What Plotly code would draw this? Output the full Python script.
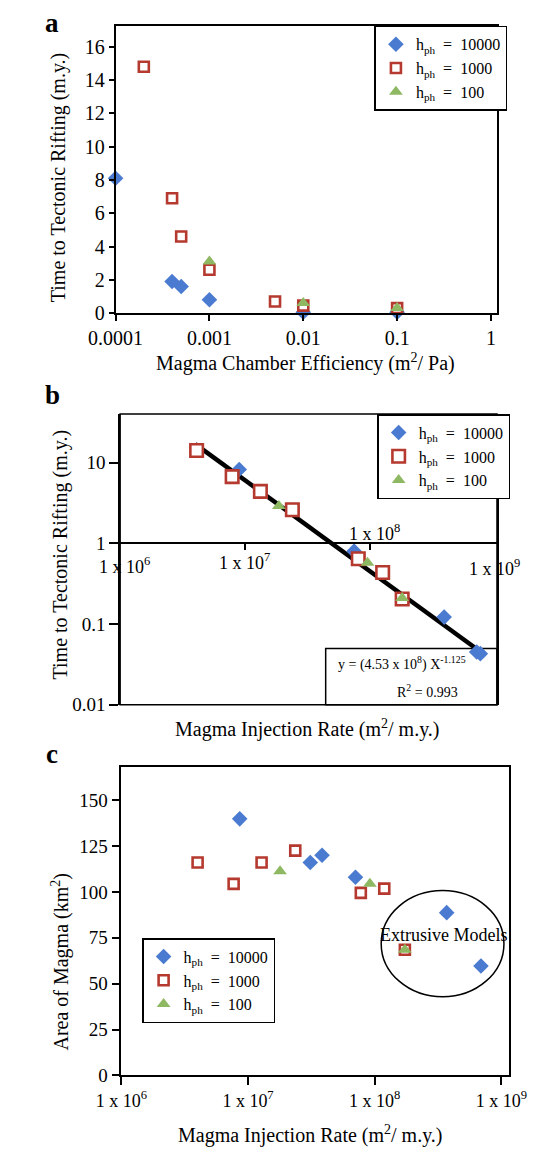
import numpy as np
import plotly.graph_objects as go

W, H = 539, 1159
FONT = "Liberation Serif, Times New Roman, serif"
TXT = "#000"
BLUE = "#4a7bd0"
RED = "#b5392e"
GREEN = "#8fb863"

# ---------------- data ----------------
series_names = ["h<sub>ph</sub>  =  10000", "h<sub>ph</sub>  =  1000", "h<sub>ph</sub>  =  100"]

# panel a: magma chamber efficiency vs time to rifting
eff_blue = [0.0001, 0.0004, 0.0005, 0.001, 0.01, 0.1]
time_blue_a = [8.1, 1.9, 1.6, 0.8, 0.05, 0.05]
eff_red = [0.0002, 0.0004, 0.0005, 0.001, 0.005, 0.01, 0.1]
time_red_a = [14.8, 6.9, 4.6, 2.6, 0.7, 0.45, 0.3]
eff_green = [0.001, 0.01, 0.1]
time_green_a = [3.1, 0.6, 0.3]
a_xticks = [0.0001, 0.001, 0.01, 0.1, 1]
a_xticktext = ["0.0001", "0.001", "0.01", "0.1", "1"]

# panel b: injection rate vs time to rifting (log-log)
rate_blue_b = [9.0e6, 7.5e7, 3.95e8, 7.2e8, 7.7e8]
time_blue_b = [8.2, 0.80, 0.122, 0.045, 0.043]
rate_red_b = [4.1e6, 7.9e6, 1.33e7, 2.4e7, 8.1e7, 1.27e8, 1.82e8]
time_red_b = [14.1, 6.7, 4.4, 2.6, 0.645, 0.435, 0.204]
rate_green_b = [1.87e7, 9.6e7, 1.82e8]
time_green_b = [2.9, 0.575, 0.21]
fit_coef = 4.53e8
fit_exp = -1.125
fit_x_ends = [4.0e6, 7.3e8]
b_yticks = [0.01, 0.1, 1, 10]
b_yticktext = ["0.01", "0.1", "1", "10"]
rate_ticks = [1e6, 1e7, 1e8, 1e9]
rate_ticktext = ["1 x 10<sup>6</sup>", "1 x 10<sup>7</sup>", "1 x 10<sup>8</sup>", "1 x 10<sup>9</sup>"]

# panel c: injection rate vs area of magma
rate_blue_c = [8.6e6, 3.1e7, 3.84e7, 7.05e7, 3.7e8, 6.9e8]
area_blue_c = [139.8, 116, 120, 108, 88.7, 59.6]
rate_red_c = [4.0e6, 7.7e6, 1.28e7, 2.36e7, 7.77e7, 1.19e8, 1.73e8]
area_red_c = [116, 104.4, 116, 122.5, 99.5, 101.8, 68.5]
rate_green_c = [1.79e7, 9.16e7, 1.73e8]
area_green_c = [111.2, 104.4, 68.5]


def px(x):
    return x / W


def py(y):
    return 1 - y / H


fig = go.Figure()


def add_series(xs, ys, xa, ya, legend, kind, showlegend=True, size_scale=1.0):
    if kind == 0:
        marker = dict(symbol="diamond", color=BLUE, size=12 * size_scale, line=dict(width=0))
    elif kind == 1:
        marker = dict(symbol="square", color="white", size=10 * size_scale,
                      line=dict(color=RED, width=2.6))
    else:
        marker = dict(symbol="triangle-up", color=GREEN, size=12 * size_scale, line=dict(width=0))
    fig.add_trace(go.Scatter(x=xs, y=ys, mode="markers", marker=marker, name=series_names[kind],
                             xaxis=xa, yaxis=ya, legend=legend, showlegend=showlegend,
                             cliponaxis=False))


# panel a
add_series(eff_blue, time_blue_a, "x", "y", "legend", 0)
add_series(eff_red, time_red_a, "x", "y", "legend", 1)
add_series(eff_green, time_green_a, "x", "y", "legend", 2)

# panel b
fx = np.array(fit_x_ends)
fig.add_trace(go.Scatter(x=fx, y=fit_coef * fx ** fit_exp, mode="lines",
                         line=dict(color="black", width=4.5), xaxis="x2", yaxis="y2",
                         showlegend=False, cliponaxis=False))
add_series(rate_blue_b, time_blue_b, "x2", "y2", "legend2", 0)
add_series(rate_red_b, time_red_b, "x2", "y2", "legend2", 1, size_scale=1.25)
add_series(rate_green_b, time_green_b, "x2", "y2", "legend2", 2)

# panel c
add_series(rate_blue_c, area_blue_c, "x3", "y3", "legend3", 0)
add_series(rate_red_c, area_red_c, "x3", "y3", "legend3", 1)
add_series(rate_green_c, area_green_c, "x3", "y3", "legend3", 2)

axis_common = dict(showline=True, linecolor="black", linewidth=1.5, showgrid=False,
                   zeroline=False, ticks="outside", tickcolor="black", tickwidth=1.5)

dom_a_x = [px(87), px(504)]
dom_a_y = [py(308), py(18)]
dom_b_x = [px(92), px(504)]
dom_b_y = [py(703.5), py(410)]
dom_c_x = [px(93.3), px(516.7)]
dom_c_y = [py(1077.7), py(766)]

b_yrange = [-2, 1.6]
b_axis_pos = dom_b_y[0] + (0 - b_yrange[0]) / (b_yrange[1] - b_yrange[0]) * (dom_b_y[1] - dom_b_y[0])

fig.update_layout(
    width=W, height=H,
    margin=dict(l=0, r=0, t=0, b=0),
    paper_bgcolor="white", plot_bgcolor="white",
    font=dict(family=FONT, color=TXT, size=19),
    xaxis=dict(type="log", range=[-4, 0.064], domain=dom_a_x, anchor="y",
               tickvals=a_xticks, ticktext=a_xticktext, ticklen=6, mirror=True,
               tickfont=dict(size=20), **axis_common),
    yaxis=dict(range=[0, 17.26], domain=dom_a_y, anchor="x", dtick=2, ticklen=5, mirror=True,
               tickfont=dict(size=20), **axis_common),
    xaxis2=dict(type="log", range=[6, 9.02], domain=dom_b_x, anchor="free", position=b_axis_pos,
                tickvals=rate_ticks[1:3], showticklabels=False, ticklen=6, **axis_common),
    yaxis2=dict(type="log", range=b_yrange, domain=dom_b_y, anchor="x2", tickvals=b_yticks,
                ticktext=b_yticktext, ticklen=9, mirror=True, tickfont=dict(size=19), **axis_common),
    xaxis3=dict(type="log", range=[6, 9.057], domain=dom_c_x, anchor="y3", tickvals=rate_ticks,
                ticktext=rate_ticktext, ticklen=8, mirror=True, tickfont=dict(size=18), **axis_common),
    yaxis3=dict(range=[0, 168.2], domain=dom_c_y, anchor="x3", dtick=25, ticklen=8, mirror=True,
                tickfont=dict(size=19), **axis_common),
)

leg_common = dict(bgcolor="white", bordercolor="black", borderwidth=1.5, xanchor="left",
                  yanchor="top", font=dict(family=FONT, size=16, color=TXT),
                  itemwidth=30, tracegroupgap=0)
fig.update_layout(
    legend=dict(x=px(370), y=py(18), **leg_common),
    legend2=dict(x=px(373), y=py(410), **leg_common),
    legend3=dict(x=px(116), y=py(939), **leg_common),
)

shapes = [
    # box around panel b
    dict(type="rect", xref="x2 domain", yref="y2 domain", x0=0, x1=1, y0=0, y1=1,
         line=dict(color="black", width=1.5)),
    # equation box in panel b
    dict(type="rect", xref="x2 domain", yref="y2 domain", x0=0.5454, x1=1, y0=0, y1=0.1935,
         line=dict(color="black", width=1.5), fillcolor="white", layer="below"),
    # ellipse around extrusive models in panel c
    dict(type="circle", xref="x3 domain", yref="y3 domain", x0=0.671, x1=0.988, y0=0.255, y1=0.599,
         line=dict(color="black", width=1.5)),
]
fig.update_layout(shapes=shapes)

ann = []


def add_text(text, x, y, size=20, angle=0, **kw):
    ann.append(dict(text=text, x=px(x), y=py(y), xref="paper", yref="paper", showarrow=False,
                    textangle=angle, font=dict(family=FONT, size=size, color=TXT),
                    xanchor="center", yanchor="middle", **kw))


# panel letters
add_text("<b>a</b>", 17, 15, size=27)
add_text("<b>b</b>", 18, 391, size=27)
add_text("<b>c</b>", 17, 753, size=27)

# axis titles
add_text("Time to Tectonic Rifting (m.y.)", 25, 171, size=20, angle=-90)
add_text("Magma Chamber Efficiency (m<sup>2</sup>/ Pa)", 295, 358, size=20)
add_text("Time to Tectonic Rifting (m.y.)", 27, 552, size=20, angle=-90)
add_text("Magma Injection Rate (m<sup>2</sup>/ m.y.)", 297, 727, size=20)
add_text("Area of Magma (km<sup>2</sup>)", 27, 963, size=20, angle=-90)
add_text("Magma Injection Rate (m<sup>2</sup>/ m.y.)", 300, 1137, size=20)

# equation of trend line
add_text("y = (4.53 x 10<sup>8</sup>) X<sup>-1.125</sup>", 400, 662, size=14)
add_text("R<sup>2</sup> = 0.993", 428, 690, size=14)

# panel b x tick labels placed around the axis line at y = 1
b_label_shift = [(4, -22), (0, -18), (5, 11), (0, -24)]
for tv, tt, (dx, dy) in zip(rate_ticks, rate_ticktext, b_label_shift):
    ann.append(dict(text=tt, x=np.log10(tv), y=0, xref="x2", yref="y2", showarrow=False,
                    xshift=dx, yshift=dy, font=dict(family=FONT, size=18, color=TXT),
                    xanchor="center", yanchor="middle"))

# extrusive models label
ann.append(dict(text="Extrusive Models", x=0.833, y=0.455, xref="x3 domain", yref="y3 domain",
                showarrow=False, font=dict(family=FONT, size=18, color=TXT),
                xanchor="center", yanchor="middle"))

fig.update_layout(annotations=ann)

fig.write_html("out.html")
